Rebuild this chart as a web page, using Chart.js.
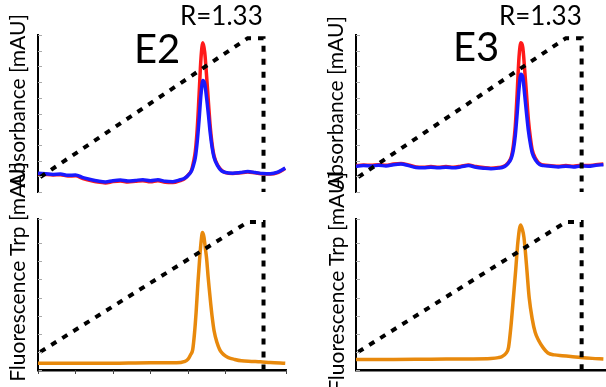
<!DOCTYPE html>
<html>
<head>
<meta charset="utf-8">
<script src="https://cdn.jsdelivr.net/npm/chart.js@4.4.1/dist/chart.umd.min.js"></script>
<style>
  body { margin: 0; background: #fff; }
  #wrap { position: relative; width: 606px; height: 387px; overflow: hidden; font-family: 'Lato', sans-serif; color: #000; }
  canvas { position: absolute; }
  .txt { position: absolute; white-space: nowrap; line-height: 1; }
  .ylab { position: absolute; white-space: nowrap; line-height: 1; font-size: 21px; transform: translate(-50%, -50%) rotate(-90deg); }
</style>
</head>
<body>
<div id="wrap">
  <canvas id="absE2" width="303" height="200" style="left:0;top:0"></canvas>
  <canvas id="fluE2" width="303" height="187" style="left:0;top:200px"></canvas>
  <canvas id="absE3" width="303" height="200" style="left:303px;top:0"></canvas>
  <canvas id="fluE3" width="303" height="187" style="left:303px;top:200px"></canvas>

  <div class="ylab" style="left:16px;top:101px">Absorbance [mAU]</div>
  <div class="ylab" style="left:16px;top:272px">Fluorescence Trp [mAU]</div>
  <div class="ylab" style="left:334px;top:103px">Absorbance [mAU]</div>
  <div class="ylab" style="left:335px;top:282px">Fluorescence Trp [mAU]</div>

  <div class="txt" style="left:180px;top:2px;font-size:26px">R=1.33</div>
  <div class="txt" style="left:134px;top:28px;font-size:40px">E2</div>
  <div class="txt" style="left:499px;top:2px;font-size:26px">R=1.33</div>
  <div class="txt" style="left:453px;top:26px;font-size:40px">E3</div>
</div>
<script>
// Daten (Zeit in min, Signal in mAU)
const absTime = [0, 2, 4, 6, 8, 10, 12, 14, 16, 18, 20, 22, 24, 26, 28, 30, 32, 34, 36, 38, 39, 40, 41, 41.5, 42, 42.5, 43, 43.5, 44, 44.5, 45, 45.5, 46, 46.5, 47, 48, 49, 50, 52, 54, 56, 58, 60, 62, 64, 66];

const e2Blue = [12.0, 11.6, 11.2, 11.4, 10.6, 10.8, 9.2, 8.0, 7.0, 6.4, 7.2, 7.6, 7.0, 7.4, 7.8, 7.2, 7.8, 6.8, 6.6, 7.8, 8.6, 10.4, 13.5, 17, 22, 32, 46, 62, 71, 69, 60, 49, 37, 28, 22, 16.5, 13.5, 12.5, 12.0, 12.4, 13.0, 12.4, 11.8, 11.6, 12.6, 15.2];
const e2Red = [11.6, 11.2, 10.9, 11.0, 10.2, 10.3, 8.6, 7.3, 6.3, 5.8, 6.6, 7.0, 6.4, 6.8, 7.2, 6.6, 7.2, 6.2, 6.0, 7.3, 8.3, 10.6, 14, 19, 26, 40, 62, 85, 95, 89, 74, 57, 41, 30, 23, 17, 13.8, 12.4, 11.8, 12.2, 12.8, 12.2, 11.6, 11.4, 12.4, 15.0];

const e3Blue = [16.4, 16.8, 16.6, 17.0, 16.6, 17.4, 17.8, 16.8, 15.6, 15.4, 15.8, 15.4, 15.8, 15.4, 16.0, 16.8, 15.8, 15.2, 14.8, 15.2, 15.6, 16.8, 19.5, 22, 27, 36, 50, 66, 75, 73, 62, 50, 39, 31, 25, 20, 17.5, 16.8, 16.4, 16.0, 16.4, 16.0, 16.6, 16.4, 17.0, 17.4];
const e3Red = [16.8, 17.2, 17.0, 17.4, 17.0, 17.8, 18.2, 17.2, 16.0, 15.8, 16.2, 15.8, 16.2, 15.8, 16.4, 17.2, 16.2, 15.6, 15.2, 15.6, 16.0, 17.2, 20, 23, 30, 42, 63, 86, 95, 92, 78, 62, 46, 35, 27, 21, 18, 17.2, 16.8, 16.4, 16.8, 16.4, 17.0, 16.8, 17.4, 17.8];

const fluE2Time = [0, 10, 20, 30, 37, 39, 40, 40.7, 41.3, 41.8, 42.2, 42.7, 43.1, 43.5, 43.9, 44.3, 44.7, 45, 45.4, 45.7, 46.1, 46.5, 47, 47.8, 48.5, 49.1, 50, 50.8, 52.5, 54.3, 57, 59.4, 62, 66];
const fluE2 = [4.4, 4.4, 4.5, 4.8, 4.8, 5.5, 7.0, 10, 13.5, 25, 38, 58, 72, 84, 91, 88, 80, 74, 62, 54, 44, 35, 26, 18, 13.5, 11.3, 9.3, 8.2, 7.0, 6.1, 5.7, 5.4, 4.9, 4.4];

const fluE3Time = [0, 10, 20, 30, 36, 38, 39, 40, 40.7, 41.3, 42, 42.6, 43.2, 43.9, 44.4, 44.8, 45.2, 45.6, 46.2, 47, 47.8, 48.7, 50, 51.2, 53, 55, 57.3, 60, 63, 66];
const fluE3 = [7.0, 7.0, 7.2, 7.3, 7.6, 8.2, 9.0, 11, 15, 28, 48, 66, 85, 96, 93, 88, 78, 66, 48, 34, 25, 19.7, 14.5, 11.3, 10, 9.5, 9.0, 8.3, 7.7, 7.3];

// Gradient (% B) in den jeweiligen Einheiten
const gradTime = [0.6, 56, 60.2, 60.2];
const gradAbs = [9.5, 98, 98, -10];
const gradFlu = [12, 98, 98, -10];

const pts = (xs, ys) => xs.map((x, i) => ({ x: x, y: ys[i] }));

// kleine Striche an den Achsen
const tickMarks = {
  id: 'tickMarks',
  afterDraw(chart, args, opts) {
    const ctx = chart.ctx;
    const y = chart.scales.y;
    const x = chart.scales.x;
    ctx.save();
    ctx.strokeStyle = '#aaa';
    ctx.lineWidth = 1;
    ctx.beginPath();
    y.ticks.forEach(t => {
      const py = Math.round(y.getPixelForValue(t.value)) + 0.5;
      ctx.moveTo(chart.chartArea.left, py);
      ctx.lineTo(chart.chartArea.left + 4, py);
    });
    ctx.stroke();
    if (opts.xTicks) {
      ctx.strokeStyle = '#444';
      ctx.beginPath();
      x.ticks.forEach(t => {
        const px = Math.round(x.getPixelForValue(t.value)) + 0.5;
        ctx.moveTo(px, chart.chartArea.bottom);
        ctx.lineTo(px, chart.chartArea.bottom + 4);
      });
      ctx.stroke();
    }
    ctx.restore();
  }
};

function makeChart(id, datasets, opt) {
  return new Chart(document.getElementById(id), {
    type: 'line',
    data: { datasets: datasets },
    options: {
      responsive: false,
      animation: false,
      devicePixelRatio: 1,
      layout: { padding: opt.padding },
      plugins: { legend: { display: false }, tooltip: { enabled: false }, tickMarks: { xTicks: opt.xTicks } },
      elements: { point: { radius: 0 }, line: { cubicInterpolationMode: 'monotone' } },
      scales: {
        x: {
          type: 'linear', min: 0, max: opt.xMax,
          display: opt.xAxis,
          grid: { display: false },
          ticks: { display: false, stepSize: 10 },
          border: { display: true, color: '#000', width: 2.5 }
        },
        y: {
          min: 0, max: 100,
          grid: { display: false },
          ticks: { display: false, stepSize: opt.yStep },
          border: { display: true, color: '#000', width: 2 }
        }
      }
    },
    plugins: [tickMarks]
  });
}

const gradStyle = { borderColor: '#000', borderWidth: 4, borderDash: [6, 7], cubicInterpolationMode: 'default', tension: 0 };

makeChart('absE2', [
  Object.assign({ data: pts(gradTime, gradAbs) }, gradStyle),
  { data: pts(absTime, e2Blue), borderColor: '#1a1aff', borderWidth: 3.5 },
  { data: pts(absTime, e2Red), borderColor: '#ff1a1a', borderWidth: 3.5 }
], { padding: { left: 30, right: 17, top: 35, bottom: 8 }, xMax: 66.2, xAxis: false, yStep: 10 });

makeChart('fluE2', [
  Object.assign({ data: pts(gradTime, gradFlu) }, gradStyle),
  { data: pts(fluE2Time, fluE2), borderColor: '#e8890c', borderWidth: 3.5 }
], { padding: { left: 30, right: 17, top: 19, bottom: 9 }, xMax: 66.2, xAxis: true, xTicks: true, yStep: 12 });

makeChart('absE3', [
  Object.assign({ data: pts(gradTime, gradAbs) }, gradStyle),
  { data: pts(absTime, e3Blue), borderColor: '#1a1aff', borderWidth: 3.5 },
  { data: pts(absTime, e3Red), borderColor: '#ff1a1a', borderWidth: 3.5 }
], { padding: { left: 45, right: 0, top: 35, bottom: 8 }, xMax: 66.7, xAxis: false, yStep: 10 });

makeChart('fluE3', [
  Object.assign({ data: pts(gradTime, gradFlu) }, gradStyle),
  { data: pts(fluE3Time, fluE3), borderColor: '#e8890c', borderWidth: 3.5 }
], { padding: { left: 45, right: 0, top: 19, bottom: 9 }, xMax: 66.7, xAxis: true, xTicks: false, yStep: 12 });
</script>
</body>
</html>
